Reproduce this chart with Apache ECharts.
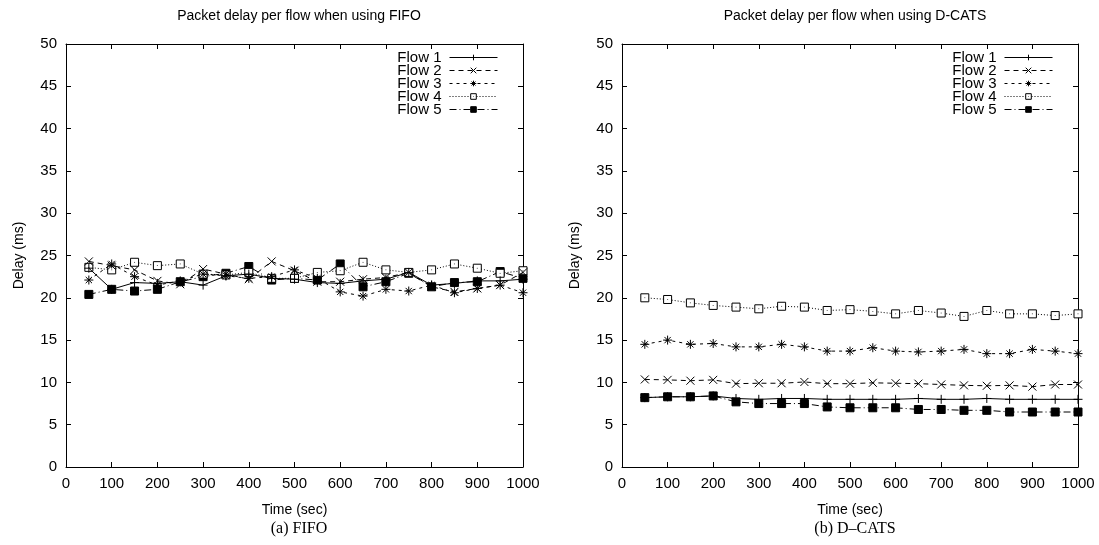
<!DOCTYPE html>
<html>
<head>
<meta charset="utf-8">
<script src="https://cdn.jsdelivr.net/npm/echarts@6/dist/echarts.min.js"></script>
<style>
  html, body { margin: 0; padding: 0; background: #fff; }
  #chart { width: 1099px; height: 545px; }
</style>
</head>
<body>
<div id="chart"></div>
<script>
// time axis (sec)
var times = [50, 100, 150, 200, 250, 300, 350, 400, 450, 500, 550, 600, 650, 700, 750, 800, 850, 900, 950, 1000];
var flowNames = ['Flow 1', 'Flow 2', 'Flow 3', 'Flow 4', 'Flow 5'];

// (a) FIFO
var fifo1 = [23.5, 21.0, 21.8, 21.7, 21.9, 21.5, 22.6, 22.8, 22.3, 22.2, 21.8, 21.7, 22.0, 22.2, 23.0, 21.5, 21.7, 22.0, 22.0, 22.2];
var fifo2 = [24.3, 23.8, 23.3, 22.0, 21.6, 23.4, 22.8, 22.2, 24.3, 23.2, 21.9, 21.9, 22.2, 22.4, 23.0, 21.3, 20.7, 21.1, 21.5, 23.0];
var fifo3 = [22.1, 24.0, 22.5, 21.5, 22.0, 22.8, 22.6, 22.3, 22.5, 23.3, 22.3, 20.7, 20.2, 21.0, 20.8, 21.5, 20.6, 21.1, 21.5, 20.6];
var fifo4 = [23.6, 23.3, 24.2, 23.8, 24.0, 22.8, 22.7, 23.0, 22.3, 22.3, 23.0, 23.2, 24.2, 23.3, 23.0, 23.3, 24.0, 23.5, 22.9, 23.2];
var fifo5 = [20.4, 21.0, 20.8, 21.0, 21.9, 22.5, 22.9, 23.7, 22.1, 22.3, 22.1, 24.0, 21.3, 21.9, 22.9, 21.3, 21.8, 21.9, 23.1, 22.3];

// (b) D-CATS
var dcats1 = [8.2, 8.3, 8.3, 8.4, 8.1, 8.0, 8.1, 8.1, 8.0, 8.0, 8.0, 8.0, 8.1, 8.0, 8.0, 8.1, 8.0, 8.0, 8.0, 8.0];
var dcats2 = [10.35, 10.3, 10.2, 10.3, 9.85, 9.9, 9.9, 10.05, 9.85, 9.85, 9.95, 9.9, 9.85, 9.75, 9.65, 9.6, 9.65, 9.5, 9.75, 9.75];
var dcats3 = [14.5, 15.0, 14.5, 14.6, 14.2, 14.2, 14.5, 14.2, 13.7, 13.7, 14.1, 13.7, 13.6, 13.7, 13.9, 13.4, 13.4, 13.9, 13.7, 13.4];
var dcats4 = [20.0, 19.8, 19.4, 19.1, 18.9, 18.7, 19.0, 18.9, 18.5, 18.6, 18.4, 18.1, 18.5, 18.2, 17.8, 18.5, 18.1, 18.1, 17.9, 18.1];
var dcats5 = [8.2, 8.3, 8.3, 8.4, 7.7, 7.5, 7.5, 7.5, 7.1, 7.0, 7.0, 7.0, 6.8, 6.8, 6.7, 6.7, 6.5, 6.5, 6.5, 6.5];

var xTicks = [0, 100, 200, 300, 400, 500, 600, 700, 800, 900, 1000];
var yTicks = [0, 5, 10, 15, 20, 25, 30, 35, 40, 45, 50];

var FONT = '"Liberation Sans", Arial, sans-serif';
var SERIF = '"Liberation Serif", "DejaVu Serif", serif';

var symbols = [
    'path://M0,5L10,5M5,0L5,10',
    'path://M0,0L10,10M10,0L0,10',
    'path://M0,5L10,5M5,0L5,10M1.5,1.5L8.5,8.5M8.5,1.5L1.5,8.5',
    'path://M0,0L10,0L10,10L0,10ZM5,4.6L5,5.4',
    'rect'
];
var symbolSizes = [9, 8, 9, 8, 8];
var fills = ['#000', '#000', '#000', '#fff', '#000'];
var dashes = ['solid', [5, 4], [3, 4], [1, 2], [7, 3, 1, 3]];

function pairs(vals) {
    return times.map(function (t, i) { return [t, vals[i]]; });
}

function makeSeries(sets, gi) {
    return sets.map(function (vals, i) {
        return {
            name: flowNames[i],
            type: 'line',
            xAxisIndex: gi * 2,
            yAxisIndex: gi * 2,
            data: pairs(vals),
            symbol: symbols[i],
            symbolSize: symbolSizes[i],
            showAllSymbol: true,
            lineStyle: { color: '#000', width: 1, type: dashes[i] },
            itemStyle: { color: fills[i], borderColor: '#000', borderWidth: 1 },
            emphasis: { disabled: true },
            z: 10 - i
        };
    });
}

function axisBase(gi) {
    return {
        gridIndex: gi, type: 'value',
        axisLine: { show: true, onZero: false, lineStyle: { color: '#000', width: 1 } },
        axisTick: { show: true, inside: true, length: 5, lineStyle: { color: '#000' } },
        splitLine: { show: false }
    };
}

function xAxes(gi) {
    var base = Object.assign(axisBase(gi), { min: 0, max: 1000, interval: 100 });
    var bottom = Object.assign({}, base, {
        position: 'bottom',
        name: 'Time (sec)', nameLocation: 'middle', nameGap: 36,
        nameTextStyle: { fontFamily: FONT, fontSize: 14, color: '#000' },
        axisLabel: { fontFamily: FONT, fontSize: 15, color: '#000', margin: 9,
            formatter: function (v) { return xTicks.indexOf(v) >= 0 ? String(v) : ''; } }
    });
    var top = Object.assign({}, base, { position: 'top', axisLabel: { show: false } });
    return [bottom, top];
}

function yAxes(gi) {
    var base = Object.assign(axisBase(gi), { min: 0, max: 50, interval: 5 });
    var left = Object.assign({}, base, {
        position: 'left',
        name: 'Delay (ms)', nameLocation: 'middle', nameGap: 40, nameRotate: 90,
        nameTextStyle: { fontFamily: FONT, fontSize: 14, color: '#000' },
        axisLabel: { fontFamily: FONT, fontSize: 15, color: '#000', margin: 9,
            formatter: function (v) { return yTicks.indexOf(v) >= 0 ? String(v) : ''; } }
    });
    var right = Object.assign({}, base, { position: 'right', axisLabel: { show: false } });
    return [left, right];
}

function legend(right) {
    return {
        data: flowNames,
        orient: 'vertical',
        align: 'right',
        right: right,
        top: 45,
        itemWidth: 48,
        itemHeight: 7,
        itemGap: -2,
        selectedMode: false,
        lineStyle: { width: 1 },
        itemStyle: { borderWidth: 1 },
        textStyle: { fontFamily: FONT, fontSize: 15, color: '#000', lineHeight: 15, padding: [0, 3, 0, 0] }
    };
}

var chart = echarts.init(document.getElementById('chart'));
var option = {
    animation: false,
    backgroundColor: '#fff',
    title: [
        { text: 'Packet delay per flow when using FIFO', left: 294, top: 4, textAlign: 'center',
          textStyle: { fontFamily: FONT, fontSize: 14, fontWeight: 'normal', color: '#000' } },
        { text: 'Packet delay per flow when using D-CATS', left: 850, top: 4, textAlign: 'center',
          textStyle: { fontFamily: FONT, fontSize: 14, fontWeight: 'normal', color: '#000' } },
        { text: '(a) FIFO', left: 294, top: 516, textAlign: 'center',
          textStyle: { fontFamily: SERIF, fontSize: 16, fontWeight: 'normal', color: '#000' } },
        { text: '(b) D\u2013CATS', left: 850, top: 516, textAlign: 'center',
          textStyle: { fontFamily: SERIF, fontSize: 16, fontWeight: 'normal', color: '#000' } }
    ],
    legend: [legend(596), legend(41)],
    grid: [
        { left: 66, right: 576, top: 44, bottom: 78 },
        { left: 622, right: 21, top: 44, bottom: 78 }
    ],
    xAxis: xAxes(0).concat(xAxes(1)),
    yAxis: yAxes(0).concat(yAxes(1)),
    series: makeSeries([fifo1, fifo2, fifo3, fifo4, fifo5], 0)
        .concat(makeSeries([dcats1, dcats2, dcats3, dcats4, dcats5], 1))
};
chart.setOption(option);
window.addEventListener('resize', function () { chart.resize(); });
</script>
</body>
</html>
